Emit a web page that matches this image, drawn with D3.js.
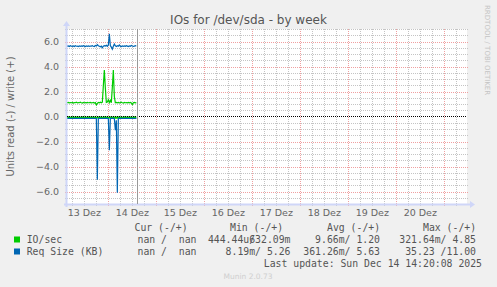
<!DOCTYPE html>
<html>
<head>
<meta charset="utf-8">
<script src="https://cdn.jsdelivr.net/npm/d3@7"></script>
<style>
  html, body { margin: 0; padding: 0; background: #f0f0f0; }
  svg { display: block; }
</style>
</head>
<body>
<div id="chart"></div>
<script>
// Munin "IOs for /dev/sda - by week"

const title = "IOs for /dev/sda - by week";
const yLabel = "Units read (-) / write (+)";
const yTicks = [-6, -4, -2, 0, 2, 4, 6];
const dayLabels = ["13 Dez", "14 Dez", "15 Dez", "16 Dez", "17 Dez", "18 Dez", "19 Dez", "20 Dez"];

// samples every 30 min, starting Dec 13 03:30
const sampleStart = Date.UTC(2025, 11, 13, 3, 30);
const sampleStep = 30 * 60 * 1000;

// IO/sec write (+)
const ioWrite = [
  1.10, 1.12, 1.09, 1.11, 1.10, 1.13, 1.08, 1.11, 1.10, 1.15,
  1.09, 1.11, 1.10, 1.14, 1.10, 1.08, 1.12, 1.10, 1.11, 1.09,
  1.12, 1.10, 1.11, 1.13, 1.09, 1.10, 1.12, 1.08, 1.11, 0.92,
  1.05, 1.12, 1.10, 1.14, 1.09, 1.15, 2.45, 3.72, 2.30, 1.12,
  1.15, 1.35, 1.12, 1.30, 1.10, 2.35, 3.72, 1.60, 1.10, 1.13,
  1.10, 1.12, 1.09, 1.11, 1.14, 1.10, 1.08, 1.12, 1.10, 1.11,
  1.09, 1.12, 1.10, 1.13, 1.08, 0.95, 1.10, 1.12, 1.09, 1.11
];
// IO/sec read (-)
const ioRead = [
  0.08, 0.07, 0.08, 0.09, 0.08, 0.07, 0.08, 0.08, 0.09, 0.08,
  0.07, 0.08, 0.08, 0.09, 0.08, 0.07, 0.08, 0.08, 0.08, 0.09,
  0.08, 0.07, 0.08, 0.08, 0.09, 0.08, 0.07, 0.08, 0.08, 0.10,
  0.09, 0.08, 0.07, 0.08, 0.08, 0.09, 0.08, 0.07, 0.08, 0.08,
  0.09, 0.10, 0.08, 0.08, 0.07, 0.08, 0.09, 0.08, 0.10, 0.09,
  0.10, 0.08, 0.07, 0.08, 0.08, 0.09, 0.08, 0.07, 0.08, 0.08,
  0.09, 0.08, 0.07, 0.08, 0.08, 0.09, 0.08, 0.07, 0.08, 0.08
];
// Req Size (KB) write (+)
const reqWrite = [
  5.62, 5.65, 5.60, 5.66, 5.63, 5.61, 5.64, 5.60, 5.66, 5.62,
  5.63, 5.60, 5.65, 5.62, 5.64, 5.61, 5.66, 5.63, 5.60, 5.64,
  5.62, 5.65, 5.61, 5.64, 5.63, 5.66, 5.62, 5.60, 5.68, 5.64,
  5.75, 5.66, 5.62, 5.58, 5.63, 5.50, 5.62, 5.66, 5.64, 5.70,
  5.62, 5.72, 6.62, 5.68, 5.55, 5.38, 5.62, 5.80, 5.65, 5.60,
  5.66, 5.62, 5.72, 5.63, 5.60, 5.65, 5.62, 5.64, 5.61, 5.66,
  5.63, 5.60, 5.65, 5.62, 5.68, 5.64, 5.61, 5.63, 5.66, 5.64
];
// Req Size (KB) read (-)
const reqRead = [
  0.15, 0.15, 0.14, 0.15, 0.16, 0.15, 0.15, 0.14, 0.15, 0.15,
  0.16, 0.15, 0.15, 0.14, 0.15, 0.15, 0.16, 0.15, 0.15, 0.14,
  0.15, 0.15, 0.16, 0.15, 0.15, 0.14, 0.15, 0.15, 0.16, 0.15,
  5.05, 0.15, 0.14, 0.15, 0.15, 0.16, 0.15, 0.15, 0.14, 0.15,
  0.15, 0.16, 2.70, 0.15, 0.15, 0.14, 0.15, 0.16, 1.10, 0.30,
  6.10, 0.15, 0.15, 0.14, 0.15, 0.15, 0.16, 0.15, 0.15, 0.14,
  0.15, 0.15, 0.16, 0.15, 0.15, 0.14, 0.15, 0.15, 0.16, 0.15
];

const seriesNames = ["IO/sec", "Req Size (KB)"];
const seriesColors = ["#00cc00", "#0066b3"];
const legendHeaders = ["Cur (-/+)", "Min (-/+)", "Avg (-/+)", "Max (-/+)"];
// [read, write] pairs for cur, min, avg, max
const ioStats = [["nan ", "nan"], ["444.44u", "632.09m"], ["9.66m", "1.20"], ["321.64m", "4.85"]];
const reqStats = [["nan ", "nan"], ["8.19m", "5.26"], ["361.26m", "5.63"], ["35.23 ", "11.00"]];
const lastUpdate = "Last update: Sun Dec 14 14:20:08 2025";
const nowTime = Date.UTC(2025, 11, 14, 14, 20, 8);

// Layout
const W = 497, H = 287;
const plot = { left: 67, right: 467, top: 29, bottom: 204 };
const viewStart = Date.UTC(2025, 11, 13, 3, 20);
const viewEnd = viewStart + 200 * 3600 * 1000;

const x = d3.scaleUtc().domain([viewStart, viewEnd]).range([plot.left, plot.right]);
const y = d3.scaleLinear().domain([-7, 7]).range([plot.bottom, plot.top]);

const svg = d3.select("#chart").append("svg")
    .attr("width", W)
    .attr("height", H)
    .attr("font-family", "'DejaVu Sans', sans-serif");

svg.append("rect").attr("width", W).attr("height", H).attr("fill", "#f0f0f0");
svg.append("rect")
    .attr("x", plot.left).attr("y", plot.top)
    .attr("width", plot.right - plot.left).attr("height", plot.bottom - plot.top)
    .attr("fill", "#ffffff");

// Grid
const grid = svg.append("g").attr("shape-rendering", "crispEdges");
const minorY = d3.range(-6.5, 7.01, 0.5).filter(v => v % 2 !== 0);
grid.selectAll(".hmin").data(minorY).join("line")
    .attr("x1", plot.left - 2).attr("x2", plot.right + 2)
    .attr("y1", d => Math.round(y(d)) + 0.5).attr("y2", d => Math.round(y(d)) + 0.5)
    .attr("stroke", "#c4c4c4").attr("stroke-dasharray", "1,1");

const minorX = d3.utcHour.every(6).range(new Date(viewStart), new Date(viewEnd))
    .filter(d => d.getUTCHours() !== 0);
grid.selectAll(".vmin").data(minorX).join("line")
    .attr("x1", d => Math.round(x(d)) + 0.5).attr("x2", d => Math.round(x(d)) + 0.5)
    .attr("y1", plot.top).attr("y2", plot.bottom + 2)
    .attr("stroke", "#c4c4c4").attr("stroke-dasharray", "1,1");

grid.selectAll(".hmaj").data(yTicks.filter(v => v !== 0)).join("line")
    .attr("x1", plot.left - 2).attr("x2", plot.right + 2)
    .attr("y1", d => Math.round(y(d)) + 0.5).attr("y2", d => Math.round(y(d)) + 0.5)
    .attr("stroke", "#f0a0a0").attr("stroke-dasharray", "1,1");

const majorX = d3.utcDay.range(new Date(viewStart), new Date(viewEnd));
grid.selectAll(".vmaj").data(majorX).join("line")
    .attr("x1", d => Math.round(x(d)) + 0.5).attr("x2", d => Math.round(x(d)) + 0.5)
    .attr("y1", plot.top).attr("y2", plot.bottom + 2)
    .attr("stroke", "#f0a0a0").attr("stroke-dasharray", "1,1");

// Axes (Munin light-blue)
const axisColor = "#cfd6f8";
svg.append("line")
    .attr("x1", plot.left - 0.5).attr("x2", plot.left - 0.5)
    .attr("y1", plot.bottom + 3).attr("y2", plot.top - 5)
    .attr("stroke", axisColor).attr("stroke-width", 2);
svg.append("path")
    .attr("d", `M${plot.left - 4},${plot.top - 3}L${plot.left - 0.5},${plot.top - 8}L${plot.left + 3},${plot.top - 3}Z`)
    .attr("fill", axisColor);
svg.append("line")
    .attr("x1", plot.left - 3).attr("x2", plot.right + 4)
    .attr("y1", plot.bottom + 0.5).attr("y2", plot.bottom + 0.5)
    .attr("stroke", axisColor).attr("stroke-width", 2);
svg.append("path")
    .attr("d", `M${plot.right + 3},${plot.bottom - 3}L${plot.right + 8},${plot.bottom + 0.5}L${plot.right + 3},${plot.bottom + 4}Z`)
    .attr("fill", axisColor);

// Y tick labels
svg.append("g").selectAll("text").data(yTicks).join("text")
    .attr("x", plot.left - 8)
    .attr("y", d => y(d) + 3.5)
    .attr("text-anchor", "end")
    .attr("font-size", 9.5)
    .attr("fill", "#666")
    .text(d => d3.format(".1f")(d));

// X tick labels (centered at noon)
svg.append("g").selectAll("text").data(dayLabels).join("text")
    .attr("x", d => x(new Date(Date.UTC(2025, 11, +d.split(" ")[0], 12))))
    .attr("y", plot.bottom + 11.5)
    .attr("text-anchor", "middle")
    .attr("font-size", 9.5)
    .attr("fill", "#666")
    .text(d => d);

// Data lines
const t = i => new Date(sampleStart + i * sampleStep);
const line = d3.line().x((d, i) => x(t(i))).y(d => y(d));
const lines = svg.append("g").attr("fill", "none").attr("stroke-width", 1.2);
lines.append("path").attr("d", line(ioRead.map(v => -v))).attr("stroke", seriesColors[0]).attr("stroke-width", 2);
lines.append("path").attr("d", line(ioWrite)).attr("stroke", seriesColors[0]);
lines.append("path").attr("d", line(reqRead.map(v => -v))).attr("stroke", seriesColors[1]);
lines.append("path").attr("d", line(reqWrite)).attr("stroke", seriesColors[1]);

// zero line
svg.append("line")
    .attr("x1", plot.left).attr("x2", plot.right)
    .attr("y1", Math.round(y(0)) - 0.5).attr("y2", Math.round(y(0)) - 0.5)
    .attr("stroke", "#000").attr("stroke-dasharray", "1,1")
    .attr("shape-rendering", "crispEdges");

// "now" rule
svg.append("line")
    .attr("x1", Math.round(x(nowTime)) + 0.5).attr("x2", Math.round(x(nowTime)) + 0.5)
    .attr("y1", plot.top).attr("y2", plot.bottom)
    .attr("stroke", "#999").attr("shape-rendering", "crispEdges");

// Title
svg.append("text")
    .attr("x", 248.5).attr("y", 24)
    .attr("text-anchor", "middle")
    .attr("font-size", 12)
    .attr("fill", "#555")
    .text(title);

// Y axis label
svg.append("text")
    .attr("transform", `translate(13.5,${y(0)}) rotate(-90)`)
    .attr("text-anchor", "middle")
    .attr("font-size", 10)
    .attr("fill", "#666")
    .text(yLabel);

// watermark
svg.append("text")
    .attr("transform", "translate(485,5) rotate(90)")
    .attr("font-size", 7)
    .attr("fill", "#c4c4c4")
    .text("RRDTOOL / TOBI OETIKER");

// Legend
const cw = 5.9;
const legend = svg.append("g")
    .attr("font-family", "'DejaVu Sans Mono', monospace")
    .attr("font-size", 9.8)
    .attr("fill", "#555")
    .attr("xml:space", "preserve");

const headerX = [134.5, 230, 327, 423];
legend.selectAll(".hdr").data(legendHeaders).join("text")
    .attr("x", (d, i) => headerX[i]).attr("y", 231)
    .text(d => d);

const colEnd = [196.5, 290.5, 380, 476];
[ioStats, reqStats].forEach((stats, r) => {
    const yy = 243 + r * 12;
    legend.append("rect")
        .attr("x", 14).attr("y", yy - 6.5)
        .attr("width", 6).attr("height", 6)
        .attr("fill", seriesColors[r]);
    legend.append("text").attr("x", 26.7).attr("y", yy).text(seriesNames[r]);
    stats.forEach(([rd, wr], c) => {
        const slot = Math.max(5, wr.length - 1) * cw;
        legend.append("text").attr("x", colEnd[c] - slot).attr("y", yy)
            .attr("text-anchor", "end").text(rd + "/");
        legend.append("text").attr("x", colEnd[c]).attr("y", yy)
            .attr("text-anchor", "end").text(wr);
    });
});

legend.append("text")
    .attr("x", 482).attr("y", 267)
    .attr("text-anchor", "end")
    .text(lastUpdate);

svg.append("text")
    .attr("x", 248).attr("y", 279)
    .attr("text-anchor", "middle")
    .attr("font-size", 7.5)
    .attr("fill", "#cfcfcf")
    .text("Munin 2.0.73");
</script>
</body>
</html>
